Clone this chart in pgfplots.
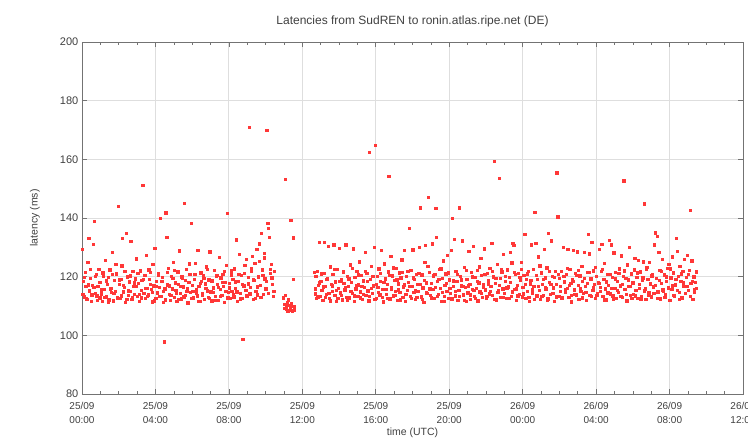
\documentclass[border=0pt]{standalone}
\usepackage{fontspec}
\setmainfont{Liberation Sans}
\usepackage{pgfplots}
\pgfplotsset{compat=1.18}
\definecolor{ptred}{RGB}{255,55,55}
\begin{document}
\fontsize{10.5}{12.5}\selectfont
\begin{tikzpicture}
\begin{axis}[
  scale only axis, width=661pt, height=352pt,
  xmin=0, xmax=36, ymin=80, ymax=200,
  xtick={0,4,...,36},
  xticklabels={{25/09\\00:00},{25/09\\04:00},{25/09\\08:00},{25/09\\12:00},{25/09\\16:00},{25/09\\20:00},{26/09\\00:00},{26/09\\04:00},{26/09\\08:00},{26/09\\12:00}},
  xticklabel style={align=center, font=\fontsize{10}{14}\selectfont, yshift=-5pt},
  yticklabel style={font=\fontsize{11}{13}\selectfont},
  minor x tick num=3,
  ytick={80,100,...,200},
  /pgf/number format/assume math mode=true,
  grid=major,
  major grid style={black!13, line width=0.9pt},
  axis line style={black!55, line width=0.8pt},
  tick style={black!55, line width=0.6pt},
  major tick length=5pt, minor tick length=3pt,
  tick label style={text=black!75},
  title={Latencies from SudREN to ronin.atlas.ripe.net (DE)},
  title style={at={(axis description cs:0.5,1)}, anchor=center, yshift=15pt, text=black!75, font=\fontsize{12}{14}\selectfont},
  xlabel={time (UTC)},
  xlabel style={at={(axis description cs:0.5,0)}, anchor=center, yshift=-39pt, text=black!75},
  ylabel={latency (ms)},
  ylabel style={at={(axis description cs:-0.0711,0.5)}, anchor=center, text=black!75},
]
\addplot[only marks, mark=square*, mark size=1.15pt, color=ptred, mark options={solid, fill=ptred, draw=ptred, line width=0.1pt}] coordinates {
(0.00,129.3)(0.05,118.4)(0.10,113.2)(0.15,121.5)(0.20,116.8)(0.25,112.4)(0.30,124.9)(0.35,133.1)(0.40,115.3)(0.45,119.6)(0.50,111.8)(0.55,117.2)(0.60,131.2)(0.65,138.9)(0.70,114.5)(0.75,120.8)(0.80,113.6)(0.85,116.9)(0.90,122.7)(0.95,112.9)
(1.00,118.1)(1.05,114.2)(1.10,111.6)(1.15,120.3)(1.20,115.8)(1.25,125.6)(1.30,113.4)(1.35,117.5)(1.40,119.9)(1.45,112.2)(1.50,122.4)(1.55,116.1)(1.60,114.7)(1.65,128.3)(1.70,111.9)(1.75,118.8)(1.80,115.2)(1.85,121.1)(1.90,113.0)(1.95,144.0)
(2.00,117.4)(2.05,112.6)(2.10,119.2)(2.15,123.8)(2.20,133.2)(2.25,114.9)(2.30,116.5)(2.35,111.4)(2.40,134.8)(2.45,120.0)(2.50,113.8)(2.55,118.3)(2.60,115.0)(2.65,132.1)(2.70,112.3)(2.75,121.9)(2.80,116.7)(2.85,114.1)(2.90,119.4)(2.95,126.2)
(3.00,113.5)(3.05,117.8)(3.10,111.7)(3.15,122.1)(3.20,115.5)(3.25,118.9)(3.30,151.2)(3.35,114.4)(3.40,120.6)(3.45,112.8)(3.50,127.4)(3.55,116.2)(3.60,113.9)(3.65,119.1)(3.70,121.6)(3.75,115.7)(3.80,111.5)(3.85,124.3)(3.90,117.0)(3.95,129.8)
(4.00,112.7)(4.05,118.6)(4.10,114.6)(4.15,121.3)(4.20,116.4)(4.25,139.9)(4.30,113.3)(4.35,119.8)(4.40,111.3)(4.45,97.9)(4.50,115.9)(4.55,141.9)(4.60,133.4)(4.65,117.3)(4.70,122.9)(4.75,114.0)(4.80,112.0)(4.85,120.2)(4.90,116.0)(4.95,125.1)
(5.00,113.1)(5.05,118.0)(5.10,115.4)(5.15,111.8)(5.20,121.7)(5.25,117.6)(5.30,128.9)(5.35,114.3)(5.40,112.5)(5.45,119.5)(5.50,116.6)(5.55,145.1)(5.60,113.7)(5.65,122.6)(5.70,115.1)(5.75,111.2)(5.80,118.2)(5.85,120.9)(5.90,114.8)(5.95,138.2)
(6.00,117.1)(6.05,112.9)(6.10,119.3)(6.15,124.6)(6.20,115.6)(6.25,113.6)(6.30,129.0)(6.35,116.8)(6.40,111.6)(6.45,121.4)(6.50,118.5)(6.55,114.2)(6.60,120.4)(6.65,112.3)(6.70,117.7)(6.75,123.5)(6.80,115.3)(6.85,113.0)(6.90,119.0)(6.95,128.6)
(7.00,114.9)(7.05,111.9)(7.10,118.7)(7.15,116.3)(7.20,122.2)(7.25,113.4)(7.30,120.1)(7.35,117.4)(7.40,112.1)(7.45,126.8)(7.50,115.8)(7.55,119.7)(7.60,113.8)(7.65,121.0)(7.70,116.9)(7.75,111.4)(7.80,118.1)(7.85,124.0)(7.90,141.6)(7.95,114.7)
(8.00,117.9)(8.05,112.6)(8.10,120.7)(8.15,115.0)(8.20,119.2)(8.25,113.2)(8.30,122.8)(8.35,116.1)(8.40,132.7)(8.45,111.7)(8.50,118.4)(8.55,127.8)(8.60,114.5)(8.65,120.5)(8.70,112.8)(8.75,98.8)(8.80,117.0)(8.85,123.9)(8.90,115.4)(8.95,125.9)
(9.00,113.6)(9.05,119.8)(9.10,171.1)(9.15,116.4)(9.20,121.8)(9.25,127.0)(9.30,112.4)(9.35,118.9)(9.40,124.7)(9.45,115.2)(9.50,129.5)(9.55,113.9)(9.60,120.0)(9.65,131.3)(9.70,117.2)(9.75,134.8)(9.80,122.4)(9.85,114.1)(9.90,126.5)(9.95,119.4)
(10.00,116.0)(10.05,169.9)(10.10,138.3)(10.15,136.6)(10.20,133.4)(10.25,121.2)(10.30,124.2)(10.35,117.6)(10.40,113.5)(10.45,121.9)
(10.95,112.9)(11.00,109.2)(11.05,153.2)(11.07,113.7)(11.10,108.9)(11.15,111.4)(11.20,108.2)(11.25,110.3)(11.30,108.6)(11.36,139.3)(11.40,111.0)(11.45,108.4)(11.50,133.3)(11.50,119.3)(11.52,110.1)(11.55,108.8)
(12.65,121.6)(12.70,114.2)(12.75,112.8)(12.80,121.9)(12.85,117.1)(12.90,131.8)(12.95,113.3)
(13.00,118.6)(13.05,115.4)(13.10,112.1)(13.15,121.2)(13.20,131.7)(13.25,116.7)(13.30,114.0)(13.35,119.6)(13.40,130.4)(13.45,112.6)(13.50,123.4)(13.55,117.5)(13.60,115.1)(13.65,120.8)(13.70,131.0)(13.75,113.7)(13.80,118.3)(13.85,111.6)(13.90,122.5)(13.95,116.2)
(14.00,129.8)(14.05,114.6)(14.10,119.0)(14.15,112.2)(14.20,121.5)(14.25,117.8)(14.30,115.6)(14.35,130.9)(14.40,113.1)(14.45,120.3)(14.50,116.9)(14.55,112.9)(14.60,124.1)(14.65,118.1)(14.70,114.3)(14.75,129.6)(14.80,111.8)(14.85,119.9)(14.90,115.9)(14.95,122.0)
(15.00,113.4)(15.05,117.3)(15.10,125.2)(15.15,114.9)(15.20,120.6)(15.25,112.4)(15.30,118.7)(15.35,116.4)(15.40,128.4)(15.45,113.8)(15.50,121.3)(15.55,115.3)(15.60,111.9)(15.65,162.4)(15.70,119.2)(15.75,123.7)(15.80,114.4)(15.85,117.0)(15.90,130.2)(15.95,164.9)
(16.00,112.7)(16.05,120.1)(16.10,116.5)(16.15,122.8)(16.20,113.9)(16.25,118.5)(16.30,129.0)(16.35,115.7)(16.40,111.5)(16.45,124.5)(16.50,119.4)(16.55,114.1)(16.60,117.6)(16.65,121.7)(16.70,154.2)(16.75,112.5)(16.80,127.1)(16.85,116.0)(16.90,120.4)(16.95,113.6)
(17.00,118.9)(17.05,115.0)(17.10,123.0)(17.15,112.0)(17.20,117.7)(17.25,121.4)(17.30,114.7)(17.35,119.7)(17.40,125.8)(17.45,113.0)(17.50,116.6)(17.55,129.1)(17.60,111.7)(17.65,120.2)(17.70,115.5)(17.75,118.2)(17.80,136.6)(17.85,113.5)(17.90,122.3)(17.95,116.8)
(18.00,129.2)(18.05,114.8)(18.10,119.1)(18.15,112.3)(18.20,121.0)(18.25,117.4)(18.30,115.2)(18.35,130.2)(18.40,143.6)(18.45,113.2)(18.50,120.7)(18.55,116.3)(18.60,111.4)(18.65,124.9)(18.70,130.8)(18.75,118.0)(18.80,114.5)(18.85,147.1)(18.90,121.6)(18.95,113.8)
(19.00,117.9)(19.05,131.3)(19.10,115.8)(19.15,112.6)(19.20,120.9)(19.25,143.3)(19.30,133.4)(19.35,118.4)(19.40,114.0)(19.45,122.7)(19.50,116.1)(19.55,111.8)(19.60,119.5)(19.65,125.5)(19.70,113.3)(19.75,117.2)(19.80,121.1)(19.85,115.1)(19.90,127.3)(19.95,112.8)
(20.00,119.0)(20.05,114.3)(20.10,129.0)(20.15,140.1)(20.20,116.8)(20.25,132.9)(20.30,113.6)(20.35,121.8)(20.40,118.6)(20.45,112.1)(20.50,115.4)(20.55,143.6)(20.60,120.3)(20.65,117.0)(20.70,132.3)(20.75,113.9)(20.80,123.3)(20.85,116.4)(20.90,111.6)(20.95,119.3)
(21.00,114.6)(21.05,128.8)(21.10,117.5)(21.15,112.4)(21.20,121.5)(21.25,115.7)(21.30,130.4)(21.35,113.4)(21.40,119.8)(21.45,116.2)(21.50,122.2)(21.55,111.9)(21.60,118.0)(21.65,114.9)(21.70,126.4)(21.75,120.5)(21.80,113.1)(21.85,117.3)(21.90,129.6)(21.95,115.6)
(22.00,112.9)(22.05,121.2)(22.10,118.7)(22.15,114.2)(22.20,122.9)(22.25,116.7)(22.30,131.4)(22.35,113.7)(22.40,120.0)(22.45,159.4)(22.50,117.8)(22.55,112.2)(22.60,124.4)(22.65,115.3)(22.70,153.6)(22.75,119.6)(22.80,113.0)(22.85,121.7)(22.90,116.0)(22.95,127.7)
(23.00,114.4)(23.05,118.5)(23.10,112.6)(23.15,122.4)(23.20,116.6)(23.25,119.9)(23.30,128.3)(23.35,113.5)(23.40,124.8)(23.45,131.5)(23.50,130.8)(23.55,115.8)(23.60,120.8)(23.65,112.0)(23.70,117.1)(23.75,121.3)(23.80,114.1)(23.85,118.8)(23.90,125.0)(23.95,113.2)
(24.00,116.5)(24.05,120.6)(24.10,134.6)(24.15,112.7)(24.20,119.3)(24.25,115.0)(24.30,121.9)(24.35,111.7)(24.40,117.7)(24.45,130.9)(24.50,114.6)(24.55,122.5)(24.60,116.9)(24.65,142.1)(24.70,131.5)(24.75,113.6)(24.80,119.1)(24.85,126.9)(24.90,115.5)(24.95,112.3)
(25.00,121.4)(25.05,117.4)(25.10,113.8)(25.15,129.3)(25.20,119.7)(25.25,115.9)(25.30,123.1)(25.35,112.5)(25.40,134.8)(25.45,118.2)(25.50,114.0)(25.55,132.3)(25.60,120.2)(25.65,116.3)(25.70,111.8)(25.75,122.0)(25.80,117.6)(25.85,155.5)(25.90,140.5)(25.95,113.4)
(26.00,119.5)(26.05,115.2)(26.10,121.8)(26.15,112.9)(26.20,130.1)(26.25,118.3)(26.30,114.7)(26.35,120.9)(26.40,116.1)(26.45,129.3)(26.50,113.0)(26.55,122.6)(26.60,117.9)(26.65,111.5)(26.70,119.0)(26.75,129.1)(26.80,115.6)(26.85,121.2)(26.90,113.9)(26.95,128.6)
(27.00,117.2)(27.05,112.4)(27.10,120.4)(27.15,115.1)(27.20,123.6)(27.25,118.6)(27.30,114.3)(27.35,128.4)(27.40,116.8)(27.45,112.1)(27.50,121.6)(27.55,134.6)(27.60,127.9)(27.65,113.7)(27.70,119.4)(27.75,131.7)(27.80,115.4)(27.85,122.1)(27.90,117.5)(27.95,112.8)
(28.00,120.1)(28.05,114.5)(28.10,118.1)(28.15,129.3)(28.20,116.4)(28.25,121.9)(28.30,131.1)(28.35,113.3)(28.40,119.2)(28.45,124.6)(28.50,115.9)(28.55,112.2)(28.60,121.0)(28.65,117.1)(28.70,132.5)(28.75,114.2)(28.80,131.0)(28.85,119.8)(28.90,113.6)(28.95,128.2)
(29.00,116.2)(29.05,121.5)(29.10,112.6)(29.15,118.4)(29.20,114.8)(29.25,122.8)(29.30,117.0)(29.35,127.2)(29.40,113.1)(29.45,120.3)(29.50,152.8)(29.55,115.7)(29.60,119.6)(29.65,111.9)(29.70,124.1)(29.75,116.9)(29.80,130.0)(29.85,113.8)(29.90,121.1)(29.95,118.0)
(30.00,114.1)(30.05,122.4)(30.10,126.4)(30.15,115.4)(30.20,119.9)(30.25,112.7)(30.30,125.6)(30.35,117.4)(30.40,121.7)(30.45,113.5)(30.50,118.9)(30.55,125.2)(30.60,144.9)(30.65,116.0)(30.70,112.3)(30.75,123.2)(30.80,119.2)(30.85,114.6)(30.90,124.9)(30.95,117.7)
(31.00,113.2)(31.05,121.0)(31.10,116.6)(31.15,131.0)(31.20,135.0)(31.25,119.5)(31.30,133.8)(31.35,114.9)(31.40,128.5)(31.45,122.3)(31.50,112.5)(31.55,117.8)(31.60,126.1)(31.65,115.2)(31.70,120.7)(31.75,113.9)(31.80,118.6)(31.85,122.9)(31.90,116.4)(31.95,124.3)
(32.00,112.0)(32.05,119.7)(32.10,115.8)(32.15,126.9)(32.20,121.4)(32.25,113.4)(32.30,117.3)(32.35,133.1)(32.40,128.8)(32.45,120.2)(32.50,114.7)(32.55,123.7)(32.60,118.5)(32.65,112.9)(32.70,121.8)(32.75,116.7)(32.80,126.0)(32.85,114.3)(32.90,119.9)(32.95,127.4)
(33.00,115.5)(33.05,122.3)(33.10,142.8)(33.15,117.9)(33.20,125.5)(33.25,112.4)(33.30,120.0)(33.35,114.8)(33.40,118.2)(33.45,116.1)
};
\addplot[only marks, mark=square*, mark size=1.15pt, color=ptred, mark options={solid, fill=ptred, draw=ptred, line width=0.1pt}] coordinates {
(0.025,114.1)(0.125,119.8)(0.225,112.5)(0.325,117.3)(0.425,122.6)(0.525,113.9)(0.625,116.4)(0.725,120.1)(0.825,112.0)(0.925,118.2)
(1.025,115.6)(1.125,121.4)(1.225,113.1)(1.325,118.7)(1.425,111.5)(1.525,116.0)(1.625,120.9)(1.725,114.3)(1.825,124.2)(1.925,112.7)
(2.025,119.0)(2.125,113.6)(2.225,117.1)(2.325,122.0)(2.425,112.4)(2.525,115.3)(2.625,120.4)(2.725,113.0)(2.825,118.0)(2.925,116.8)
(3.025,121.2)(3.125,114.0)(3.225,112.9)(3.325,119.3)(3.425,116.1)(3.525,113.4)(3.625,122.4)(3.725,117.6)(3.825,114.8)(3.925,111.9)
(4.025,116.7)(4.125,120.7)(4.225,113.5)(4.325,118.4)(4.425,115.0)(4.525,112.2)(4.625,121.6)(4.725,117.0)(4.825,113.7)(4.925,119.5)
(5.025,122.3)(5.125,114.6)(5.225,112.3)(5.325,116.9)(5.425,120.0)(5.525,113.2)(5.625,118.8)(5.725,115.9)(5.825,124.5)(5.925,112.6)
(6.025,115.2)(6.125,121.0)(6.225,114.4)(6.325,111.7)(6.425,117.9)(6.525,113.8)(6.625,119.6)(6.725,116.2)(6.825,122.7)(6.925,112.8)
(7.025,118.6)(7.125,114.7)(7.225,112.0)(7.325,120.5)(7.425,116.5)(7.525,113.3)(7.625,118.1)(7.725,121.8)(7.825,115.1)(7.925,112.9)
(8.025,116.3)(8.125,122.1)(8.225,113.9)(8.325,118.3)(8.425,114.9)(8.525,120.8)(8.625,112.5)(8.725,117.4)(8.825,121.3)(8.925,113.6)
(9.025,117.7)(9.125,114.2)(9.225,123.0)(9.325,119.1)(9.425,112.6)(9.525,116.6)(9.625,125.3)(9.725,113.1)(9.825,120.6)(9.925,128.1)
(10.025,118.5)(10.125,114.5)(10.225,122.5)(10.325,119.7)(10.425,115.2)
(11.025,110.6)(11.125,109.5)(11.225,112.2)(11.325,109.8)(11.425,108.7)(11.525,109.9)
(12.675,116.0)(12.725,120.2)(12.825,113.2)(12.925,118.0)
(13.025,121.1)(13.125,116.6)(13.225,113.0)(13.325,119.2)(13.425,114.5)(13.525,111.9)(13.625,117.0)(13.725,122.6)(13.825,115.4)(13.925,112.7)
(14.025,118.4)(14.125,113.8)(14.225,121.7)(14.325,116.4)(14.425,112.1)(14.525,119.4)(14.625,115.0)(14.725,122.9)(14.825,113.6)(14.925,117.2)
(15.025,120.7)(15.125,112.9)(15.225,116.8)(15.325,114.1)(15.425,121.9)(15.525,118.6)(15.625,113.4)(15.725,116.1)(15.825,120.1)(15.925,112.3)
(16.025,117.5)(16.125,114.7)(16.225,121.3)(16.325,113.1)(16.425,118.2)(16.525,115.8)(16.625,112.6)(16.725,120.6)(16.825,116.3)(16.925,123.1)
(17.025,113.7)(17.125,119.0)(17.225,115.6)(17.325,112.2)(17.425,121.5)(17.525,117.3)(17.625,114.0)(17.725,122.0)(17.825,116.7)(17.925,112.8)
(18.025,119.7)(18.125,115.3)(18.225,113.0)(18.325,121.2)(18.425,117.6)(18.525,112.4)(18.625,118.9)(18.725,114.6)(18.825,123.6)(18.925,116.0)
(19.025,112.9)(19.125,120.4)(19.225,116.5)(19.325,113.5)(19.425,119.3)(19.525,122.8)(19.625,114.8)(19.725,111.8)(19.825,117.9)(19.925,121.4)
(20.025,116.2)(20.125,112.5)(20.225,118.7)(20.325,115.1)(20.425,121.0)(20.525,113.3)(20.625,119.0)(20.725,116.9)(20.825,112.0)(20.925,122.3)
(21.025,117.0)(21.125,113.9)(21.225,120.0)(21.325,115.5)(21.425,112.7)(21.525,118.6)(21.625,123.4)(21.725,114.3)(21.825,116.6)(21.925,120.9)
(22.025,113.4)(22.125,117.7)(22.225,115.0)(22.325,121.9)(22.425,112.3)(22.525,119.5)(22.625,114.7)(22.725,117.2)(22.825,122.4)(22.925,113.1)
(23.025,120.3)(23.125,116.3)(23.225,112.8)(23.325,118.1)(23.425,114.9)(23.525,121.6)(23.625,116.0)(23.725,113.6)(23.825,119.9)(23.925,122.7)
(24.025,114.2)(24.125,117.4)(24.225,121.1)(24.325,113.0)(24.425,118.8)(24.525,115.7)(24.625,112.4)(24.725,120.5)(24.825,116.8)(24.925,123.8)
(25.025,113.5)(25.125,119.1)(25.225,116.4)(25.325,112.1)(25.425,121.8)(25.525,117.5)(25.625,114.4)(25.725,119.8)(25.825,113.2)(25.925,121.0)
(26.025,116.9)(26.125,112.6)(26.225,120.2)(26.325,115.8)(26.425,122.9)(26.525,117.1)(26.625,113.7)(26.725,118.5)(26.825,114.1)(26.925,120.6)
(27.025,122.2)(27.125,115.9)(27.225,112.9)(27.325,119.6)(27.425,114.8)(27.525,117.9)(27.625,121.5)(27.725,113.3)(27.825,116.5)(27.925,123.2)
(28.025,113.8)(28.125,117.8)(28.225,115.2)(28.325,122.5)(28.425,112.2)(28.525,118.3)(28.625,114.6)(28.725,120.8)(28.825,116.1)(28.925,112.5)
(29.025,119.4)(29.125,115.5)(29.225,121.2)(29.325,113.4)(29.425,117.6)(29.525,122.1)(29.625,114.0)(29.725,119.0)(29.825,116.7)(29.925,112.8)
(30.025,118.0)(30.125,113.6)(30.225,121.4)(30.325,116.2)(30.425,112.4)(30.525,119.7)(30.625,115.3)(30.725,122.6)(30.825,113.9)(30.925,117.5)
(31.025,120.4)(31.125,114.3)(31.225,117.2)(31.325,112.7)(31.425,118.9)(31.525,121.8)(31.625,115.6)(31.725,113.1)(31.825,120.0)(31.925,116.3)
(32.025,122.8)(32.125,117.0)(32.225,113.8)(32.325,119.3)(32.425,115.4)(32.525,112.3)(32.625,121.1)(32.725,118.0)(32.825,114.5)(32.925,116.9)
(33.025,120.8)(33.125,113.3)(33.225,118.6)(33.325,115.8)(33.425,121.7)
};
\coordinate (ll) at (rel axis cs:0,0);
\coordinate (ur) at (rel axis cs:1,1);
\end{axis}
\pgfresetboundingbox
\path ([xshift=-82pt,yshift=-43pt]ll) rectangle ([xshift=5pt,yshift=42pt]ur);
\end{tikzpicture}
\end{document}
